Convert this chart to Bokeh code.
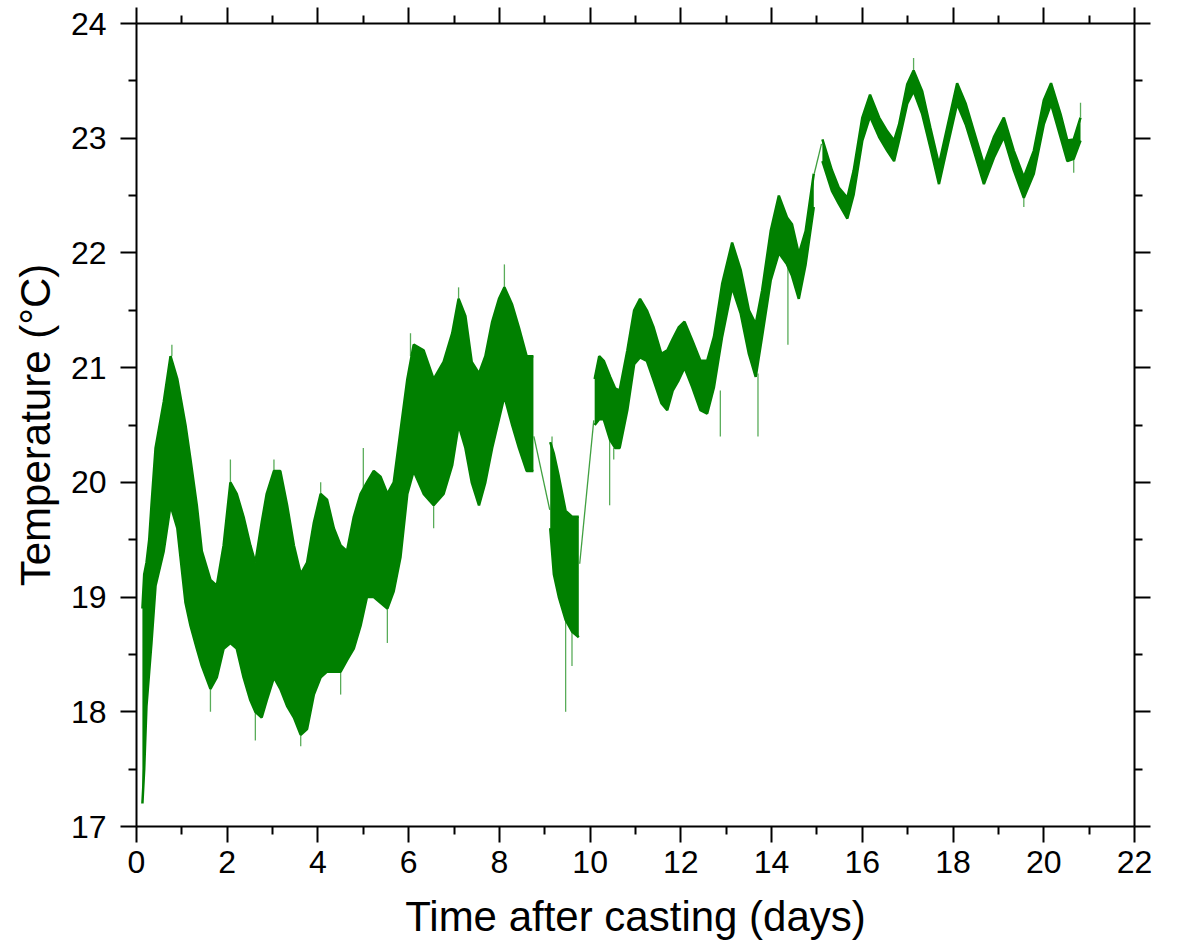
from bokeh.plotting import figure
from bokeh.models import Range1d, FixedTicker, LinearAxis
from bokeh.embed import file_html
from bokeh.resources import INLINE

# ---------------- data ----------------
# Segment A (0.13 - 8.75 days): time, upper envelope, lower envelope (°C)
tA = [0.13, 0.17, 0.22, 0.28, 0.33, 0.42, 0.60, 0.75, 0.90, 1.08, 1.19, 1.33, 1.44, 1.63, 1.77,
      1.92, 2.07, 2.21, 2.36, 2.51, 2.62, 2.76, 2.87, 3.03, 3.17, 3.32, 3.47, 3.62, 3.76, 3.91,
      4.06, 4.20, 4.35, 4.50, 4.64, 4.79, 4.94, 5.08, 5.23, 5.38, 5.53, 5.67, 5.82, 5.97, 6.11,
      6.33, 6.55, 6.77, 6.96, 7.10, 7.25, 7.39, 7.55, 7.69, 7.84, 7.99, 8.11, 8.28, 8.43, 8.60, 8.75]
hiA = [18.9, 19.2, 19.3, 19.5, 19.8, 20.3, 20.7, 21.1, 20.9, 20.5, 20.2, 19.8, 19.4, 19.15, 19.1,
       19.45, 20.0, 19.9, 19.7, 19.45, 19.3, 19.65, 19.9, 20.1, 20.1, 19.8, 19.45, 19.2, 19.3, 19.65,
       19.9, 19.85, 19.6, 19.45, 19.4, 19.7, 19.9, 20.0, 20.1, 20.05, 19.9, 20.0, 20.45, 20.9, 21.2,
       21.15, 20.9, 21.05, 21.3, 21.6, 21.45, 21.05, 20.95, 21.1, 21.4, 21.6, 21.7, 21.55, 21.35, 21.1, 21.1]
loA = [17.2, 17.5, 18.05, 18.35, 18.6, 19.1, 19.4, 19.8, 19.6, 18.95, 18.75, 18.55, 18.4, 18.2, 18.3,
       18.55, 18.6, 18.55, 18.3, 18.1, 18.0, 17.95, 18.1, 18.3, 18.2, 18.05, 17.95, 17.8, 17.85, 18.15,
       18.3, 18.35, 18.35, 18.35, 18.45, 18.55, 18.75, 19.0, 19.0, 18.95, 18.9, 19.05, 19.35, 19.9, 20.1,
       19.9, 19.8, 19.9, 20.15, 20.5, 20.3, 20.0, 19.8, 20.0, 20.3, 20.55, 20.75, 20.5, 20.3, 20.1, 20.1]

# Segment B (9.12 - 9.75 days)
tB = [9.12, 9.20, 9.31, 9.46, 9.60, 9.75]
hiB = [20.35, 20.25, 20.05, 19.75, 19.7, 19.7]
loB = [19.6, 19.2, 19.0, 18.8, 18.7, 18.65]

# Segment C (10.10 - 14.93 days)
tC = [10.10, 10.20, 10.30, 10.44, 10.55, 10.65, 10.82, 10.97, 11.10, 11.25, 11.40, 11.57, 11.70,
      11.82, 11.95, 12.08, 12.25, 12.43, 12.58, 12.73, 12.91, 13.13, 13.32, 13.50, 13.65, 13.79,
      13.98, 14.16, 14.34, 14.45, 14.60, 14.75, 14.93]
hiC = [20.9, 21.1, 21.06, 20.92, 20.82, 20.8, 21.15, 21.5, 21.6, 21.5, 21.35, 21.12, 21.15,
       21.25, 21.35, 21.4, 21.24, 21.06, 21.06, 21.27, 21.73, 22.09, 21.85, 21.5, 21.38, 21.67,
       22.19, 22.5, 22.31, 22.25, 21.99, 22.19, 22.69]
loC = [20.5, 20.55, 20.55, 20.37, 20.3, 20.3, 20.63, 21.03, 21.09, 21.06, 20.89, 20.69, 20.63,
       20.8, 20.89, 21.0, 20.83, 20.63, 20.6, 20.83, 21.27, 21.7, 21.47, 21.12, 20.92, 21.27,
       21.76, 22.0, 21.9, 21.8, 21.6, 21.9, 22.4]

# Segment D (15.12 - 20.81 days)
tD = [15.12, 15.33, 15.48, 15.67, 15.81, 16.00, 16.17, 16.37, 16.55, 16.70, 16.81, 16.99, 17.13,
      17.32, 17.50, 17.69, 17.87, 18.09, 18.28, 18.46, 18.68, 18.90, 19.12, 19.34, 19.56, 19.78,
      20.00, 20.16, 20.37, 20.52, 20.66, 20.81]
hiD = [22.99, 22.72, 22.57, 22.48, 22.72, 23.18, 23.38, 23.18, 23.06, 22.98, 23.12, 23.47, 23.59,
       23.41, 23.09, 22.77, 23.09, 23.48, 23.30, 23.06, 22.77, 23.01, 23.18, 22.89, 22.66, 22.89,
       23.33, 23.48, 23.21, 22.98, 22.99, 23.18]
loD = [22.80, 22.54, 22.43, 22.30, 22.51, 22.98, 23.19, 23.01, 22.89, 22.80, 22.98, 23.30, 23.41,
       23.21, 22.92, 22.60, 22.92, 23.30, 23.12, 22.89, 22.60, 22.83, 23.01, 22.72, 22.48, 22.69,
       23.12, 23.30, 23.01, 22.80, 22.82, 22.98]

# thin connecting lines across data gaps
gap_t0 = [8.76, 9.77, 14.94]
gap_v0 = [20.40, 19.29, 22.69]
gap_t1 = [9.11, 10.08, 15.10]
gap_v1 = [19.76, 20.54, 22.95]

# isolated spikes: time, start value, end value
spk_t = [0.78, 1.63, 2.07, 2.62, 3.03, 3.62, 4.06, 4.50, 5.00, 5.53, 6.04, 6.55, 7.10, 8.11,
         9.16, 9.46, 9.60, 10.43, 10.52, 12.87, 13.70, 14.36, 17.13, 19.56, 20.66, 20.81]
spk_a = [21.1, 18.2, 20.0, 18.0, 20.1, 17.8, 19.9, 18.35, 19.95, 18.9, 21.1, 19.8, 21.6, 21.7,
         20.3, 18.8, 18.7, 20.4, 20.3, 20.8, 20.95, 21.9, 23.59, 22.48, 22.82, 23.18]
spk_b = [21.2, 18.0, 20.2, 17.75, 20.2, 17.7, 20.0, 18.15, 20.3, 18.6, 21.3, 19.6, 21.7, 21.9,
         20.4, 18.0, 18.4, 19.8, 20.2, 20.4, 20.4, 21.2, 23.7, 22.4, 22.7, 23.31]

x_major = [0, 2, 4, 6, 8, 10, 12, 14, 16, 18, 20, 22]
x_minor = [1, 3, 5, 7, 9, 11, 13, 15, 17, 19, 21]
y_major = [17, 18, 19, 20, 21, 22, 23, 24]
y_minor = [17.5, 18.5, 19.5, 20.5, 21.5, 22.5, 23.5]

GREEN = "#008000"
FONT = "Liberation Sans"

p = figure(width=1170, height=951, output_backend="svg", toolbar_location=None,
           x_range=Range1d(0, 22), y_range=Range1d(17, 24),
           min_border_left=136, min_border_right=36, min_border_top=23, min_border_bottom=125)
p.xgrid.visible = False
p.ygrid.visible = False
p.outline_line_color = None
p.background_fill_color = "white"
p.border_fill_color = "white"

for (t, hi, lo) in [(tA, hiA, loA), (tB, hiB, loB), (tC, hiC, loC), (tD, hiD, loD)]:
    p.varea(x=t, y1=lo, y2=hi, fill_color=GREEN)
    p.line(x=t, y=hi, line_color=GREEN, line_width=2.5)
    p.line(x=t, y=lo, line_color=GREEN, line_width=2.5)

p.segment(x0=gap_t0, y0=gap_v0, x1=gap_t1, y1=gap_v1, line_color=GREEN, line_width=1.3, line_alpha=0.75)
p.segment(x0=spk_t, y0=spk_a, x1=spk_t, y1=spk_b, line_color=GREEN, line_width=1.3, line_alpha=0.65)


def style(ax, ticker, labels):
    ax.ticker = ticker
    ax.axis_line_color = "black"
    ax.axis_line_width = 2
    ax.major_tick_line_color = "black"
    ax.minor_tick_line_color = "black"
    ax.major_tick_line_width = 2
    ax.minor_tick_line_width = 2
    ax.major_tick_in = 0
    ax.major_tick_out = 16
    ax.minor_tick_in = 0
    ax.minor_tick_out = 8
    ax.major_label_text_font = FONT
    ax.major_label_text_color = "black"
    ax.axis_label_text_font = FONT
    ax.axis_label_text_font_style = "normal"
    ax.axis_label_text_color = "black"
    ax.axis_label_text_font_size = "42px"
    if labels:
        ax.major_label_text_font_size = "32px"
    else:
        ax.major_label_text_font_size = "0px"
        ax.major_label_text_alpha = 0
        ax.major_label_standoff = 0


xt = FixedTicker(ticks=x_major, minor_ticks=x_minor)
yt = FixedTicker(ticks=y_major, minor_ticks=y_minor)

bottom = p.xaxis[0]
left = p.yaxis[0]
style(bottom, xt, True)
style(left, yt, True)
bottom.axis_label = "Time after casting (days)"
bottom.major_label_standoff = 8
bottom.axis_label_standoff = 17
left.axis_label = "Temperature (°C)"
left.major_label_standoff = 14
left.axis_label_standoff = 9

top = LinearAxis()
style(top, FixedTicker(ticks=x_major, minor_ticks=x_minor), False)
p.add_layout(top, "above")
right = LinearAxis()
style(right, FixedTicker(ticks=y_major, minor_ticks=y_minor), False)
p.add_layout(right, "right")

open("out.html", "w").write(file_html(p, INLINE))
